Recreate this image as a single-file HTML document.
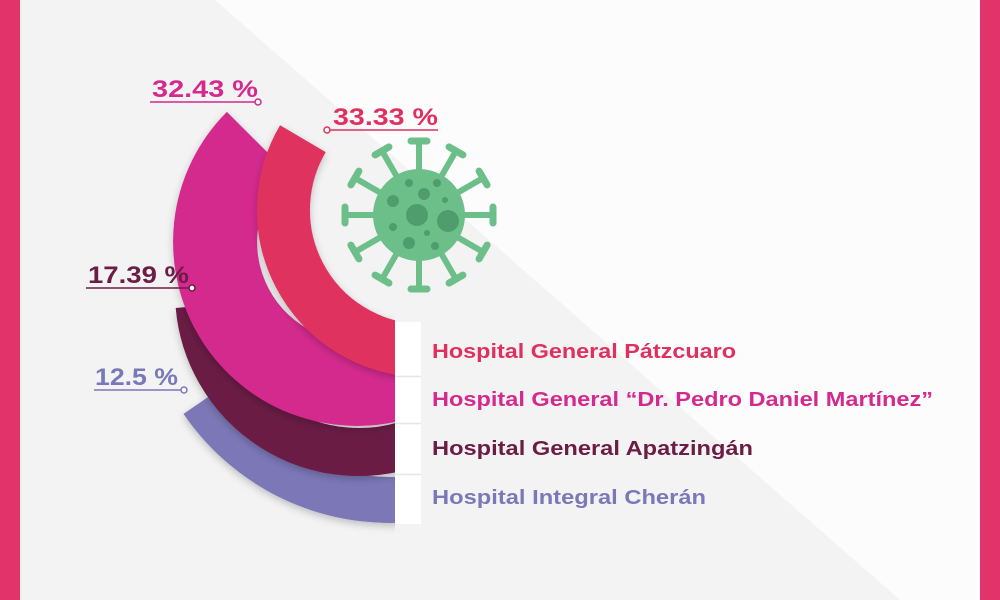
<!DOCTYPE html>
<html><head><meta charset="utf-8"><style>
html,body{margin:0;padding:0;width:1000px;height:600px;overflow:hidden}
svg{display:block}
</style></head><body>
<svg width="1000" height="600" viewBox="0 0 1000 600" xmlns="http://www.w3.org/2000/svg">
<defs>
<clipPath id="c"><rect x="0" y="0" width="395" height="600"/></clipPath>
<filter id="sh" filterUnits="userSpaceOnUse" x="0" y="0" width="1000" height="600"><feDropShadow dx="0" dy="3" stdDeviation="4" flood-color="#000" flood-opacity="0.22"/></filter>
</defs>
<rect width="1000" height="600" fill="#fcfcfc"/>
<polygon points="20,0 215,0 900,600 20,600" fill="#f3f3f4"/>
<rect x="0" y="0" width="20" height="600" fill="#e2336a"/>
<rect x="980" y="0" width="20" height="600" fill="#e2336a"/>
<g clip-path="url(#c)" fill="none">
<path d="M202.5,400.9 A227,227 0 0 0 429.4,496.5" stroke="#7b78b8" stroke-width="46" filter="url(#sh)"/>
<path d="M199.6,305.9 A160,160 0 0 0 413.7,442.4" stroke="#6b1d45" stroke-width="48" filter="url(#sh)"/>
<path d="M256.6,141.6 A142,142 0 0 0 405.6,375.4" stroke="#d4298e" stroke-width="84" filter="url(#sh)"/>
<path d="M302.9,138.7 A140.5,140.5 0 0 0 411.7,350" stroke="#e0305f" stroke-width="53" filter="url(#sh)"/>
</g>
<g fill="#fff">
<rect x="395" y="322" width="26" height="54"/>
<rect x="395" y="377" width="26" height="46"/>
<rect x="395" y="424" width="26" height="50"/>
<rect x="395" y="475" width="26" height="49"/>
</g>
<g stroke="#e6e6e6" stroke-width="1.5">
<line x1="395" y1="376.5" x2="421" y2="376.5"/><line x1="395" y1="423.5" x2="421" y2="423.5"/><line x1="395" y1="474.5" x2="421" y2="474.5"/>
</g>
<g fill="#6dbf8a" stroke="#6dbf8a">
<g stroke-width="6" stroke-linecap="round">
<g id="sp"><line x1="419" y1="215" x2="419" y2="143"/><line x1="411" y1="141" x2="427" y2="141" stroke-width="7"/></g>
<use href="#sp" transform="rotate(30 419 215)"/><use href="#sp" transform="rotate(60 419 215)"/><use href="#sp" transform="rotate(90 419 215)"/>
<use href="#sp" transform="rotate(120 419 215)"/><use href="#sp" transform="rotate(150 419 215)"/><use href="#sp" transform="rotate(180 419 215)"/>
<use href="#sp" transform="rotate(210 419 215)"/><use href="#sp" transform="rotate(240 419 215)"/><use href="#sp" transform="rotate(270 419 215)"/>
<use href="#sp" transform="rotate(300 419 215)"/><use href="#sp" transform="rotate(330 419 215)"/>
</g>
<circle cx="419" cy="215" r="46" stroke="none"/>
</g>
<g fill="#4f9c6c">
<circle cx="417" cy="215" r="11"/><circle cx="448" cy="221" r="11"/><circle cx="424" cy="194" r="6"/><circle cx="393" cy="201" r="6"/>
<circle cx="409" cy="243" r="6"/><circle cx="409" cy="183" r="4"/><circle cx="437" cy="183" r="4"/><circle cx="445" cy="200" r="3"/>
<circle cx="393" cy="227" r="4"/><circle cx="427" cy="233" r="3"/><circle cx="435" cy="246" r="4"/>
</g>
<g font-family="Liberation Sans, sans-serif" font-weight="bold" font-size="24">
<text x="152" y="97" fill="#d4298e" textLength="106" lengthAdjust="spacingAndGlyphs">32.43 %</text>
<text x="333" y="125" fill="#e0305f" textLength="105" lengthAdjust="spacingAndGlyphs">33.33 %</text>
<text x="88" y="283" fill="#6b1d45" textLength="101" lengthAdjust="spacingAndGlyphs">17.39 %</text>
<text x="95" y="385" fill="#7b78b8" textLength="83" lengthAdjust="spacingAndGlyphs">12.5 %</text>
</g>
<g fill="none" stroke-width="1.5">
<line x1="150" y1="102" x2="255" y2="102" stroke="#d4298e"/><circle cx="258" cy="102" r="3" stroke="#d4298e" fill="#fff"/>
<line x1="330" y1="130" x2="438" y2="130" stroke="#e0305f"/><circle cx="327" cy="130" r="3" stroke="#e0305f" fill="#fff"/>
<line x1="86" y1="288" x2="189" y2="288" stroke="#6b1d45"/><circle cx="192" cy="288" r="3" stroke="#6b1d45" fill="#fff"/>
<line x1="94" y1="390" x2="181" y2="390" stroke="#7b78b8"/><circle cx="184" cy="390" r="3" stroke="#7b78b8" fill="#fff"/>
</g>
<g font-family="Liberation Sans, sans-serif" font-weight="bold" font-size="20">
<text x="432" y="358" fill="#e0305f" textLength="304" lengthAdjust="spacingAndGlyphs">Hospital General Pátzcuaro</text>
<text x="432" y="406" fill="#d4298e" textLength="501" lengthAdjust="spacingAndGlyphs">Hospital General “Dr. Pedro Daniel Martínez”</text>
<text x="432" y="455" fill="#6b1d45" textLength="321" lengthAdjust="spacingAndGlyphs">Hospital General Apatzingán</text>
<text x="432" y="504" fill="#7b78b8" textLength="274" lengthAdjust="spacingAndGlyphs">Hospital Integral Cherán</text>
</g>
</svg>
</body></html>
